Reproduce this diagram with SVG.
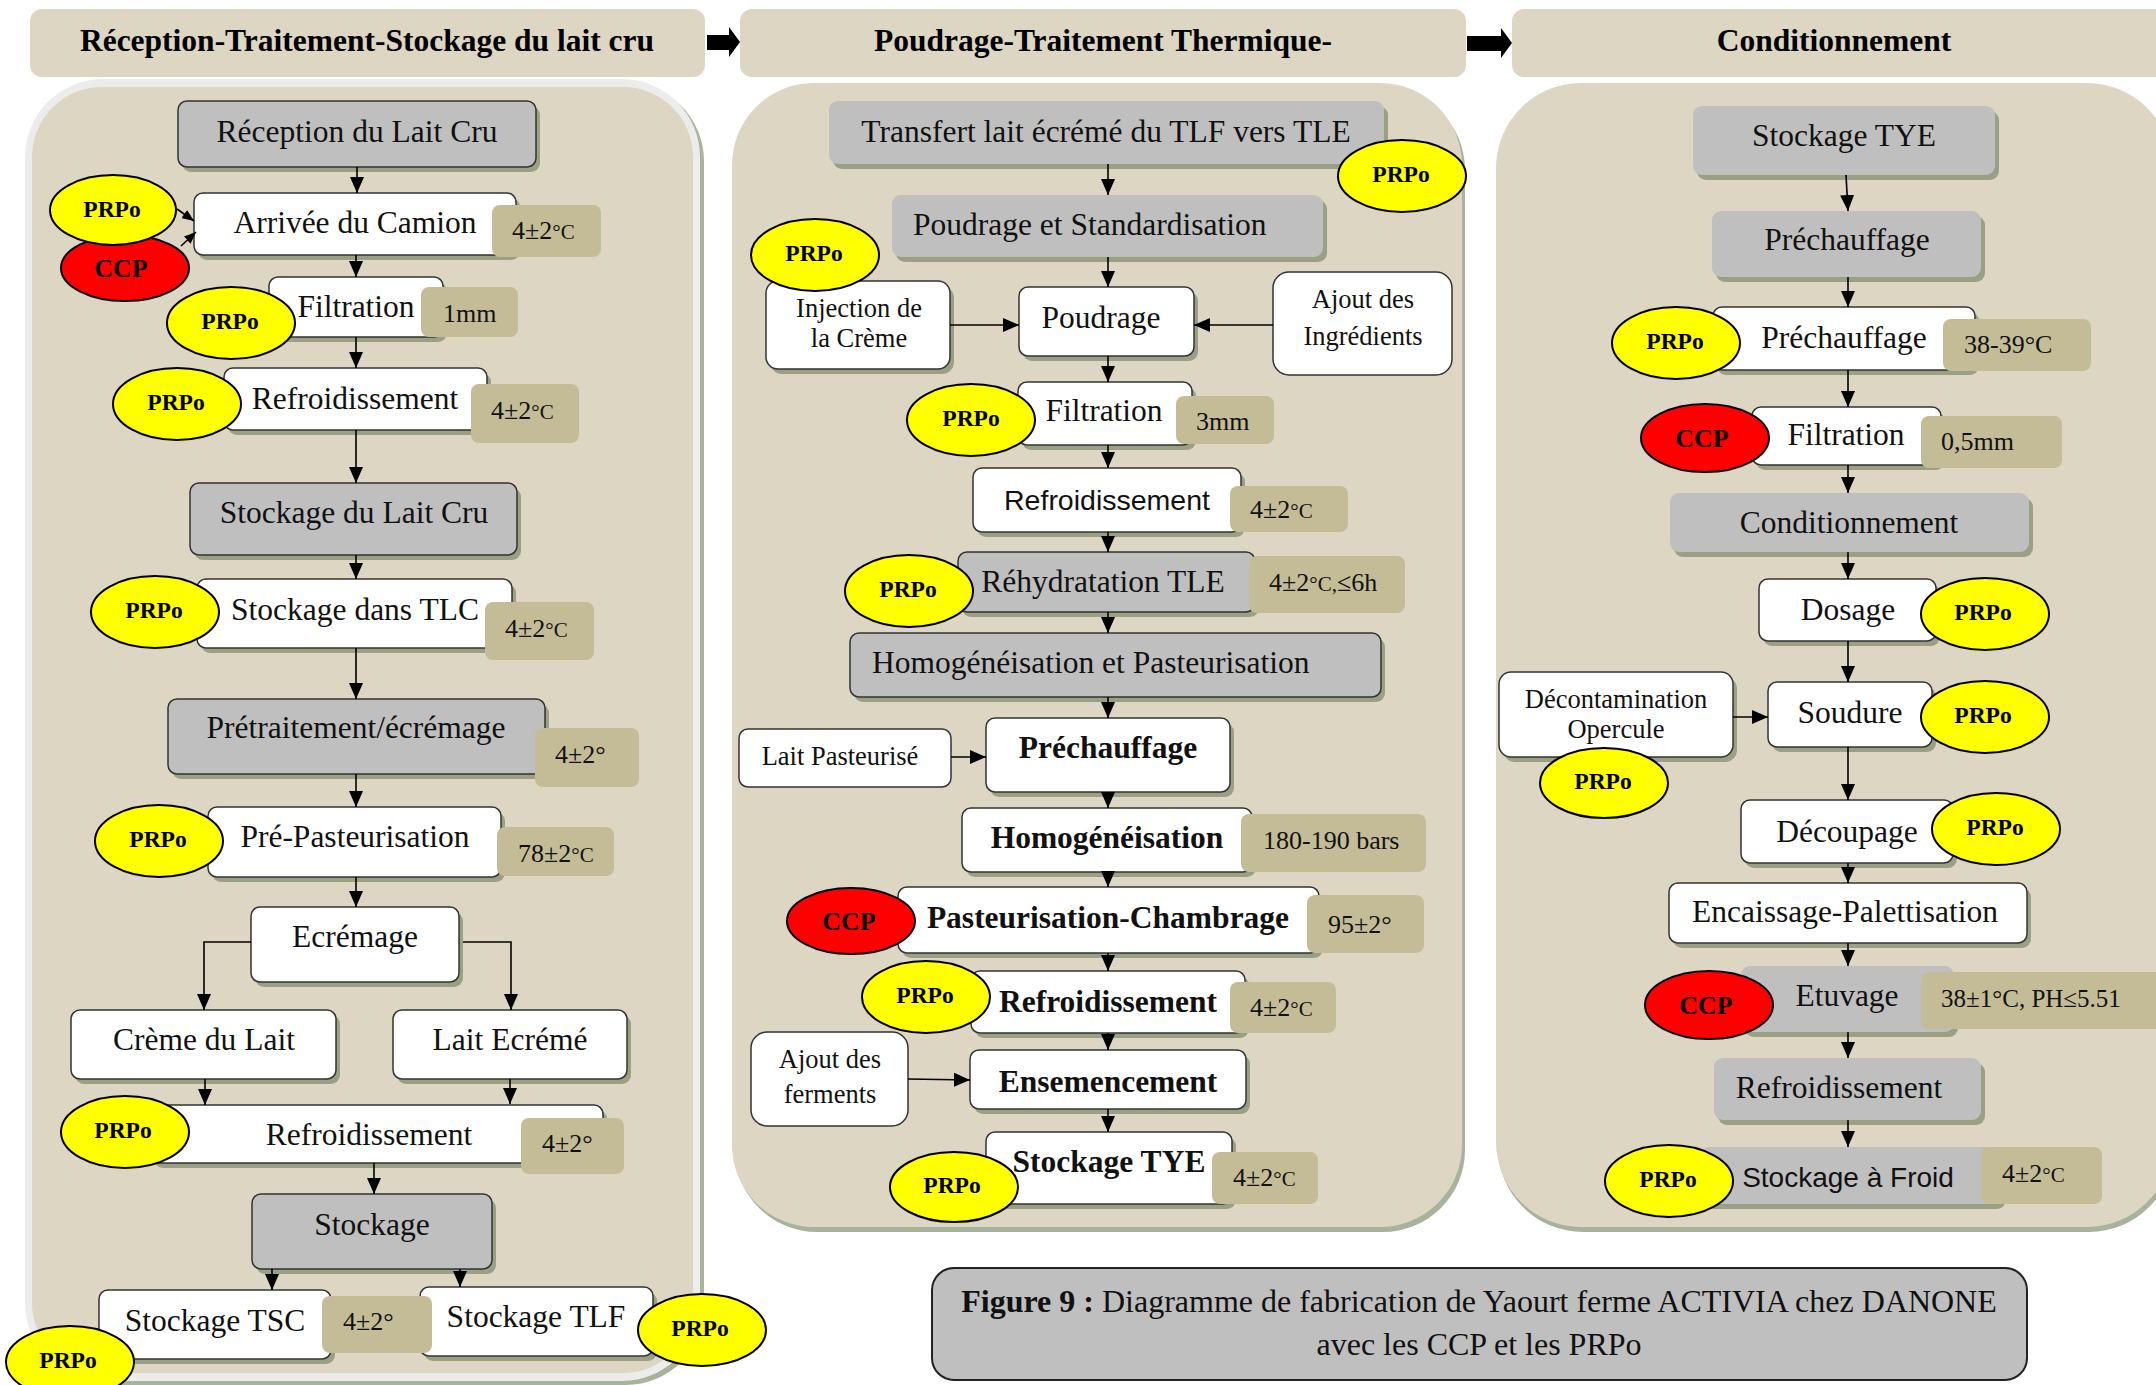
<svg xmlns="http://www.w3.org/2000/svg" width="2156" height="1385" viewBox="0 0 2156 1385">
<defs>
<marker id="ah" viewBox="0 0 16 14" refX="16" refY="7" markerWidth="16" markerHeight="14" markerUnits="userSpaceOnUse" orient="auto">
<path d="M0,0 L16,7 L0,14 z" fill="#000"/>
</marker>
<marker id="ahs" viewBox="0 0 12 10" refX="12" refY="5" markerWidth="12" markerHeight="10" markerUnits="userSpaceOnUse" orient="auto">
<path d="M0,0 L12,5 L0,10 z" fill="#000"/>
</marker>
</defs>
<style>
.hdr{fill:#dcd6c2}
.panel{fill:#dcd6c2}
.pshadow{fill:#a8b39b}
.sh{fill:#99a083}
.bw{fill:#ffffff;stroke:#333;stroke-width:1.5}
.bg{fill:#bfbfbf;stroke:#333;stroke-width:1.5}
.bgn{fill:#bfbfbf}
.tan{fill:#c4bc96}
.prpo{fill:#ffff00;stroke:#000;stroke-width:2}
.ccp{fill:#ff0000;stroke:#000;stroke-width:2}
text{font-family:"Liberation Serif","Times New Roman",serif;fill:#111}
.t{font-size:31.5px;text-anchor:middle}
.tl{font-size:31.5px;text-anchor:start}
.tb{font-size:31.5px;text-anchor:middle;font-weight:bold}
.ts{font-size:26.5px;text-anchor:middle}
.sans{font-family:"Liberation Sans",Arial,sans-serif;font-size:28.5px;text-anchor:middle}
.tt{font-size:26px}
.sm{font-size:21px}
.bd{font-size:23.5px;font-weight:bold;text-anchor:middle;fill:#000}
.bc{font-size:26px;font-weight:bold;text-anchor:middle;fill:#000}
.ht{font-size:31.5px;font-weight:bold;text-anchor:middle;fill:#000}
.cap{font-size:32px;text-anchor:middle}
.ln{fill:none;stroke:#000;stroke-width:1.6;marker-end:url(#ah)}
.lns{fill:none;stroke:#000;stroke-width:1.6;marker-end:url(#ahs)}
</style>

<!-- background -->
<rect x="0" y="0" width="2156" height="1385" fill="#ffffff"/>

<!-- headers -->
<g id="header1">
<rect class="hdr" x="30" y="9" width="675" height="68" rx="12"/>
<text class="ht" x="367" y="51">Réception-Traitement-Stockage du lait cru</text>
</g>
<g id="header2">
<rect class="hdr" x="740" y="9" width="726" height="68" rx="12"/>
<text class="ht" x="1103" y="51">Poudrage-Traitement Thermique-</text>
</g>
<g id="header3">
<rect class="hdr" x="1512" y="9" width="690" height="68" rx="12"/>
<text class="ht" x="1834" y="51">Conditionnement</text>
</g>
<g id="header-arrows">
<polygon points="707,35 729,35 729,27 740,42 729,57 729,50 707,50" fill="#000"/>
<polygon points="1467,36 1501,36 1501,28 1512,43 1501,58 1501,51 1467,51" fill="#000"/>
</g>

<!-- panels -->
<g id="panel1">
<rect class="pshadow" x="29" y="83" width="675" height="1302" rx="78"/>
<rect x="25" y="79" width="675" height="1302" rx="78" fill="#ececec"/>
<rect class="panel" x="32" y="87" width="661" height="1286" rx="70"/>
</g>
<g id="panel2">
<rect class="pshadow" x="735" y="88" width="730" height="1144" rx="82"/>
<rect class="panel" x="732" y="83" width="730" height="1144" rx="82"/>
</g>
<g id="panel3">
<rect class="pshadow" x="1498" y="88" width="676" height="1144" rx="85"/>
<rect class="panel" x="1496" y="83" width="676" height="1144" rx="85"/>
</g>

<!-- ===== Panel 1 nodes ===== -->
<g id="n-reception">
<rect class="sh" x="182" y="106" width="358" height="66" rx="9"/>
<rect class="bg" x="178" y="101" width="358" height="66" rx="9"/>
<text class="t" x="357" y="142">Réception du Lait Cru</text>
</g>
<g id="n-arrivee">
<rect class="sh" x="198" y="198" width="322" height="62" rx="9"/>
<rect class="bw" x="194" y="193" width="322" height="62" rx="9"/>
<text class="t" x="355" y="233">Arrivée du Camion</text>
<rect class="tan" x="492" y="205" width="109" height="52" rx="8"/>
<text class="tt" x="512" y="239">4±2<tspan class="sm">°C</tspan></text>
<ellipse class="ccp" cx="125" cy="268" rx="64" ry="33"/>
<text class="bc" x="121" y="277">CCP</text>
<ellipse class="prpo" cx="113" cy="210" rx="63" ry="35"/>
<text class="bd" x="112" y="217">PRPo</text>
</g>
<g id="n-filtration1">
<rect class="sh" x="273" y="282" width="174" height="60" rx="9"/>
<rect class="bw" x="269" y="277" width="174" height="60" rx="9"/>
<text class="t" x="356" y="317">Filtration</text>
<rect class="tan" x="421" y="287" width="97" height="50" rx="8"/>
<text class="tt" x="443" y="322">1mm</text>
<ellipse class="prpo" cx="231" cy="323" rx="64" ry="36"/>
<text class="bd" x="230" y="329">PRPo</text>
</g>
<g id="n-refroid1">
<rect class="sh" x="228" y="373" width="263" height="62" rx="9"/>
<rect class="bw" x="224" y="368" width="263" height="62" rx="9"/>
<text class="t" x="355" y="409">Refroidissement</text>
<rect class="tan" x="471" y="384" width="108" height="59" rx="8"/>
<text class="tt" x="491" y="419">4±2<tspan class="sm">°C</tspan></text>
<ellipse class="prpo" cx="177" cy="404" rx="64" ry="36"/>
<text class="bd" x="176" y="410">PRPo</text>
</g>
<g id="n-stockage-cru">
<rect class="sh" x="194" y="488" width="327" height="72" rx="9"/>
<rect class="bg" x="190" y="483" width="327" height="72" rx="9"/>
<text class="t" x="354" y="523">Stockage du Lait Cru</text>
</g>
<g id="n-tlc">
<rect class="sh" x="201" y="584" width="315" height="69" rx="9"/>
<rect class="bw" x="197" y="579" width="315" height="69" rx="9"/>
<text class="t" x="355" y="620">Stockage dans TLC</text>
<rect class="tan" x="485" y="602" width="109" height="58" rx="8"/>
<text class="tt" x="505" y="637">4±2<tspan class="sm">°C</tspan></text>
<ellipse class="prpo" cx="155" cy="612" rx="64" ry="36"/>
<text class="bd" x="154" y="618">PRPo</text>
</g>
<g id="n-pretraitement">
<rect class="sh" x="172" y="704" width="377" height="75" rx="9"/>
<rect class="bg" x="168" y="699" width="377" height="75" rx="9"/>
<text class="t" x="356" y="738">Prétraitement/écrémage</text>
<rect class="tan" x="535" y="728" width="104" height="59" rx="8"/>
<text class="tt" x="555" y="763">4±2°</text>
</g>
<g id="n-prepasteurisation">
<rect class="sh" x="212" y="812" width="293" height="70" rx="9"/>
<rect class="bw" x="208" y="807" width="293" height="70" rx="9"/>
<text class="t" x="355" y="847">Pré-Pasteurisation</text>
<rect class="tan" x="497" y="827" width="117" height="49" rx="8"/>
<text class="tt" x="518" y="862">78±2<tspan class="sm">°C</tspan></text>
<ellipse class="prpo" cx="159" cy="841" rx="64" ry="36"/>
<text class="bd" x="158" y="847">PRPo</text>
</g>
<g id="n-ecremage">
<rect class="sh" x="255" y="912" width="208" height="75" rx="9"/>
<rect class="bw" x="251" y="907" width="208" height="75" rx="9"/>
<text class="t" x="355" y="947">Ecrémage</text>
</g>
<g id="n-creme">
<rect class="sh" x="75" y="1015" width="265" height="69" rx="9"/>
<rect class="bw" x="71" y="1010" width="265" height="69" rx="9"/>
<text class="t" x="204" y="1050">Crème du Lait</text>
</g>
<g id="n-lait-ecreme">
<rect class="sh" x="397" y="1015" width="234" height="69" rx="9"/>
<rect class="bw" x="393" y="1010" width="234" height="69" rx="9"/>
<text class="t" x="510" y="1050">Lait Ecrémé</text>
</g>
<g id="n-refroid2">
<rect class="sh" x="154" y="1110" width="453" height="58" rx="9"/>
<rect class="bw" x="150" y="1105" width="453" height="58" rx="9"/>
<text class="t" x="369" y="1145">Refroidissement</text>
<rect class="tan" x="521" y="1118" width="103" height="56" rx="8"/>
<text class="tt" x="542" y="1152">4±2°</text>
<ellipse class="prpo" cx="125" cy="1132" rx="64" ry="36"/>
<text class="bd" x="123" y="1138">PRPo</text>
</g>
<g id="n-stockage">
<rect class="sh" x="256" y="1199" width="240" height="75" rx="9"/>
<rect class="bg" x="252" y="1194" width="240" height="75" rx="9"/>
<text class="t" x="372" y="1235">Stockage</text>
</g>
<g id="n-tsc">
<rect class="sh" x="103" y="1295" width="232" height="69" rx="9"/>
<rect class="bw" x="99" y="1290" width="232" height="69" rx="9"/>
<text class="t" x="215" y="1331">Stockage TSC</text>
</g>
<g id="n-tlf">
<rect class="sh" x="424" y="1292" width="233" height="69" rx="9"/>
<rect class="bw" x="420" y="1287" width="233" height="69" rx="9"/>
<text class="t" x="536" y="1327">Stockage TLF</text>
<ellipse class="prpo" cx="702" cy="1330" rx="64" ry="36"/>
<text class="bd" x="700" y="1336">PRPo</text>
</g>
<g id="n-tsc-annot">
<rect class="tan" x="322" y="1296" width="110" height="57" rx="8"/>
<text class="tt" x="343" y="1330">4±2°</text>
<ellipse class="prpo" cx="70" cy="1362" rx="64" ry="36"/>
<text class="bd" x="68" y="1368">PRPo</text>
</g>

<!-- ===== Panel 2 nodes ===== -->
<g id="n-transfert">
<rect class="sh" x="833" y="106" width="555" height="63" rx="9"/>
<rect class="bgn" x="829" y="101" width="555" height="63" rx="9"/>
<text class="t" x="1106" y="142">Transfert lait écrémé du TLF vers TLE</text>
<ellipse class="prpo" cx="1402" cy="176" rx="64" ry="36"/>
<text class="bd" x="1401" y="182">PRPo</text>
</g>
<g id="n-poudrage-std">
<rect class="sh" x="896" y="200" width="431" height="62" rx="9"/>
<rect class="bgn" x="892" y="195" width="431" height="62" rx="9"/>
<text class="tl" x="913" y="235">Poudrage et Standardisation</text>
</g>
<g id="n-injection">
<rect class="sh" x="770" y="286" width="184" height="88" rx="12"/>
<rect class="bw" x="766" y="281" width="184" height="88" rx="12"/>
<text class="ts" x="859" y="317">Injection de</text>
<text class="ts" x="859" y="347">la Crème</text>
<ellipse class="prpo" cx="815" cy="255" rx="64" ry="36"/>
<text class="bd" x="814" y="261">PRPo</text>
</g>
<g id="n-poudrage">
<rect class="sh" x="1023" y="292" width="175" height="69" rx="9"/>
<rect class="bw" x="1019" y="287" width="175" height="69" rx="9"/>
<text class="t" x="1101" y="328">Poudrage</text>
</g>
<g id="n-ajout-ingredients">
<rect class="bw" x="1273" y="272" width="179" height="103" rx="16"/>
<text class="ts" x="1363" y="308">Ajout des</text>
<text class="ts" x="1363" y="345">Ingrédients</text>
</g>
<g id="n-filtration2">
<rect class="sh" x="1022" y="387" width="174" height="63" rx="9"/>
<rect class="bw" x="1018" y="382" width="174" height="63" rx="9"/>
<text class="t" x="1104" y="421">Filtration</text>
<rect class="tan" x="1176" y="396" width="98" height="48" rx="8"/>
<text class="tt" x="1196" y="430">3mm</text>
<ellipse class="prpo" cx="971" cy="420" rx="64" ry="36"/>
<text class="bd" x="971" y="426">PRPo</text>
</g>
<g id="n-refroid3">
<rect class="sh" x="977" y="473" width="268" height="64" rx="9"/>
<rect class="bw" x="973" y="468" width="268" height="64" rx="9"/>
<text class="sans" x="1107" y="510">Refroidissement</text>
<rect class="tan" x="1230" y="486" width="118" height="46" rx="8"/>
<text class="tt" x="1250" y="518">4±2<tspan class="sm">°C</tspan></text>
</g>
<g id="n-rehydratation">
<rect class="sh" x="962" y="557" width="297" height="60" rx="9"/>
<rect class="bg" x="958" y="552" width="297" height="60" rx="9"/>
<text class="t" x="1103" y="592">Réhydratation TLE</text>
<rect class="tan" x="1249" y="556" width="156" height="57" rx="8"/>
<text class="tt" x="1269" y="591">4±2<tspan class="sm">°C,</tspan>≤6h</text>
<ellipse class="prpo" cx="909" cy="591" rx="64" ry="36"/>
<text class="bd" x="908" y="597">PRPo</text>
</g>
<g id="n-homo-past">
<rect class="sh" x="854" y="638" width="531" height="64" rx="9"/>
<rect class="bg" x="850" y="633" width="531" height="64" rx="9"/>
<text class="tl" x="872" y="673">Homogénéisation et Pasteurisation</text>
</g>
<g id="n-lait-pasteurise">
<rect class="bw" x="739" y="729" width="212" height="58" rx="9"/>
<text class="ts" x="840" y="765">Lait Pasteurisé</text>
</g>
<g id="n-prechauffage1">
<rect class="sh" x="990" y="723" width="244" height="74" rx="9"/>
<rect class="bw" x="986" y="718" width="244" height="74" rx="9"/>
<text class="tb" x="1108" y="758">Préchauffage</text>
</g>
<g id="n-homogeneisation">
<rect class="sh" x="966" y="813" width="290" height="64" rx="9"/>
<rect class="bw" x="962" y="808" width="290" height="64" rx="9"/>
<text class="tb" x="1107" y="848">Homogénéisation</text>
<rect class="tan" x="1241" y="814" width="185" height="58" rx="8"/>
<text class="tt" x="1263" y="849">180-190 bars</text>
</g>
<g id="n-pasteurisation">
<rect class="sh" x="902" y="892" width="421" height="66" rx="9"/>
<rect class="bw" x="898" y="887" width="421" height="66" rx="9"/>
<text class="tb" x="1108" y="928">Pasteurisation-Chambrage</text>
<rect class="tan" x="1307" y="895" width="117" height="58" rx="8"/>
<text class="tt" x="1328" y="933">95±2°</text>
<ellipse class="ccp" cx="851" cy="921" rx="64" ry="33"/>
<text class="bc" x="849" y="930">CCP</text>
</g>
<g id="n-refroid4">
<rect class="sh" x="975" y="976" width="274" height="62" rx="9"/>
<rect class="bw" x="971" y="971" width="274" height="62" rx="9"/>
<text class="tb" x="1108" y="1012">Refroidissement</text>
<rect class="tan" x="1230" y="982" width="106" height="51" rx="8"/>
<text class="tt" x="1250" y="1016">4±2<tspan class="sm">°C</tspan></text>
<ellipse class="prpo" cx="926" cy="997" rx="64" ry="36"/>
<text class="bd" x="925" y="1003">PRPo</text>
</g>
<g id="n-ajout-ferments">
<rect class="bw" x="751" y="1032" width="157" height="94" rx="16"/>
<text class="ts" x="830" y="1068">Ajout des</text>
<text class="ts" x="830" y="1103">ferments</text>
</g>
<g id="n-ensemencement">
<rect class="sh" x="974" y="1055" width="276" height="59" rx="9"/>
<rect class="bw" x="970" y="1050" width="276" height="59" rx="9"/>
<text class="tb" x="1108" y="1092">Ensemencement</text>
</g>
<g id="n-stockage-tye1">
<rect class="sh" x="990" y="1137" width="246" height="72" rx="9"/>
<rect class="bw" x="986" y="1132" width="246" height="72" rx="9"/>
<text class="tb" x="1109" y="1172">Stockage TYE</text>
<rect class="tan" x="1212" y="1152" width="106" height="52" rx="8"/>
<text class="tt" x="1233" y="1186">4±2<tspan class="sm">°C</tspan></text>
<ellipse class="prpo" cx="954" cy="1187" rx="64" ry="35"/>
<text class="bd" x="952" y="1193">PRPo</text>
</g>

<!-- ===== Panel 3 nodes ===== -->
<g id="n-stockage-tye2">
<rect class="sh" x="1697" y="111" width="302" height="69" rx="9"/>
<rect class="bgn" x="1693" y="106" width="302" height="69" rx="9"/>
<text class="t" x="1844" y="146">Stockage TYE</text>
</g>
<g id="n-prechauffage2">
<rect class="sh" x="1716" y="216" width="269" height="66" rx="9"/>
<rect class="bgn" x="1712" y="211" width="269" height="66" rx="9"/>
<text class="t" x="1847" y="250">Préchauffage</text>
</g>
<g id="n-prechauffage3">
<rect class="sh" x="1717" y="312" width="262" height="63" rx="9"/>
<rect class="bw" x="1713" y="307" width="262" height="63" rx="9"/>
<text class="t" x="1844" y="348">Préchauffage</text>
<rect class="tan" x="1943" y="319" width="148" height="52" rx="8"/>
<text class="tt" x="1964" y="353">38-39°C</text>
<ellipse class="prpo" cx="1676" cy="343" rx="64" ry="36"/>
<text class="bd" x="1675" y="349">PRPo</text>
</g>
<g id="n-filtration3">
<rect class="sh" x="1756" y="412" width="189" height="58" rx="9"/>
<rect class="bw" x="1752" y="407" width="189" height="58" rx="9"/>
<text class="t" x="1846" y="445">Filtration</text>
<rect class="tan" x="1921" y="416" width="141" height="52" rx="8"/>
<text class="tt" x="1941" y="450">0,5mm</text>
<ellipse class="ccp" cx="1705" cy="438" rx="64" ry="34"/>
<text class="bc" x="1702" y="447">CCP</text>
</g>
<g id="n-conditionnement">
<rect class="sh" x="1674" y="498" width="359" height="59" rx="9"/>
<rect class="bgn" x="1670" y="493" width="359" height="59" rx="9"/>
<text class="t" x="1849" y="533">Conditionnement</text>
</g>
<g id="n-dosage">
<rect class="sh" x="1763" y="584" width="177" height="62" rx="9"/>
<rect class="bw" x="1759" y="579" width="177" height="62" rx="9"/>
<text class="t" x="1848" y="620">Dosage</text>
<ellipse class="prpo" cx="1985" cy="614" rx="64" ry="36"/>
<text class="bd" x="1983" y="620">PRPo</text>
</g>
<g id="n-decontamination">
<rect class="sh" x="1503" y="677" width="234" height="85" rx="12"/>
<rect class="bw" x="1499" y="672" width="234" height="85" rx="12"/>
<text class="ts" x="1616" y="708">Décontamination</text>
<text class="ts" x="1616" y="738">Opercule</text>
<ellipse class="prpo" cx="1604" cy="783" rx="64" ry="35"/>
<text class="bd" x="1603" y="789">PRPo</text>
</g>
<g id="n-soudure">
<rect class="sh" x="1772" y="687" width="164" height="65" rx="9"/>
<rect class="bw" x="1768" y="682" width="164" height="65" rx="9"/>
<text class="t" x="1850" y="723">Soudure</text>
<ellipse class="prpo" cx="1985" cy="717" rx="64" ry="36"/>
<text class="bd" x="1983" y="723">PRPo</text>
</g>
<g id="n-decoupage">
<rect class="sh" x="1745" y="805" width="212" height="63" rx="9"/>
<rect class="bw" x="1741" y="800" width="212" height="63" rx="9"/>
<text class="t" x="1847" y="842">Découpage</text>
<ellipse class="prpo" cx="1996" cy="829" rx="64" ry="36"/>
<text class="bd" x="1995" y="835">PRPo</text>
</g>
<g id="n-encaissage">
<rect class="sh" x="1673" y="888" width="358" height="60" rx="9"/>
<rect class="bw" x="1669" y="883" width="358" height="60" rx="9"/>
<text class="t" x="1845" y="922">Encaissage-Palettisation</text>
</g>
<g id="n-etuvage">
<rect class="sh" x="1745" y="971" width="213" height="66" rx="9"/>
<rect class="bgn" x="1741" y="966" width="213" height="66" rx="9"/>
<text class="t" x="1847" y="1006">Etuvage</text>
<rect class="tan" x="1921" y="972" width="250" height="57" rx="8"/>
<text class="tt" x="1941" y="1007" style="font-size:25px">38±1°C, PH≤5.51</text>
<ellipse class="ccp" cx="1709" cy="1005" rx="64" ry="34"/>
<text class="bc" x="1706" y="1014">CCP</text>
</g>
<g id="n-refroid5">
<rect class="sh" x="1718" y="1063" width="267" height="62" rx="9"/>
<rect class="bgn" x="1714" y="1058" width="267" height="62" rx="9"/>
<text class="t" x="1839" y="1098">Refroidissement</text>
</g>
<g id="n-stockage-froid">
<rect class="sh" x="1704" y="1152" width="302" height="57" rx="9"/>
<rect class="bgn" x="1700" y="1147" width="302" height="57" rx="9"/>
<text class="sans" x="1848" y="1187" style="font-size:28px">Stockage à Froid</text>
<rect class="tan" x="1981" y="1147" width="121" height="57" rx="8"/>
<text class="tt" x="2002" y="1182">4±2<tspan class="sm">°C</tspan></text>
<ellipse class="prpo" cx="1669" cy="1181" rx="64" ry="36"/>
<text class="bd" x="1668" y="1187">PRPo</text>
</g>

<!-- caption -->
<g id="caption">
<rect x="932" y="1268" width="1095" height="112" rx="22" fill="#bfbfbf" stroke="#222" stroke-width="2"/>
<text class="cap" x="1479" y="1312"><tspan font-weight="bold">Figure 9 : </tspan>Diagramme de fabrication de Yaourt ferme ACTIVIA chez DANONE</text>
<text class="cap" x="1479" y="1355">avec les CCP et les PRPo</text>
</g>

<!-- connectors -->
<g id="connectors">
<path class="ln" d="M357,167 V193"/>
<path class="ln" d="M356,255 V277"/>
<path class="ln" d="M356,337 V368"/>
<path class="ln" d="M356,430 V483"/>
<path class="ln" d="M356,555 V579"/>
<path class="ln" d="M356,648 V699"/>
<path class="ln" d="M356,774 V807"/>
<path class="ln" d="M356,877 V907"/>
<path class="ln" d="M251,942 H204 V1010"/>
<path class="ln" d="M463,942 H511 V1010"/>
<path class="ln" d="M205,1079 V1105"/>
<path class="ln" d="M510,1079 V1104"/>
<path class="ln" d="M374,1163 V1194"/>
<path class="ln" d="M272,1269 V1290"/>
<path class="ln" d="M460,1269 V1287"/>
<path class="lns" d="M177,209 L194,221"/>
<path class="lns" d="M181,246 L196,232"/>

<path class="ln" d="M1108,164 V195"/>
<path class="ln" d="M1108,257 V287"/>
<path class="ln" d="M950,325 H1019"/>
<path class="ln" d="M1273,325 H1194"/>
<path class="ln" d="M1108,356 V382"/>
<path class="ln" d="M1108,445 V468"/>
<path class="ln" d="M1108,532 V552"/>
<path class="ln" d="M1108,612 V633"/>
<path class="ln" d="M1108,697 V718"/>
<path class="ln" d="M951,757 H986"/>
<path class="ln" d="M1108,792 V808"/>
<path class="ln" d="M1108,872 V887"/>
<path class="ln" d="M1108,953 V971"/>
<path class="ln" d="M1108,1033 V1050"/>
<path class="ln" d="M908,1079 L970,1080"/>
<path class="ln" d="M1108,1109 V1132"/>

<path class="ln" d="M1846,175 L1848,211"/>
<path class="ln" d="M1848,277 V307"/>
<path class="ln" d="M1848,370 V407"/>
<path class="ln" d="M1848,465 V493"/>
<path class="ln" d="M1848,552 V579"/>
<path class="ln" d="M1848,641 V682"/>
<path class="ln" d="M1733,717 H1768"/>
<path class="ln" d="M1848,747 V800"/>
<path class="ln" d="M1848,863 V883"/>
<path class="ln" d="M1848,943 V966"/>
<path class="ln" d="M1848,1032 V1058"/>
<path class="ln" d="M1848,1120 V1147"/>
</g>
</svg>
